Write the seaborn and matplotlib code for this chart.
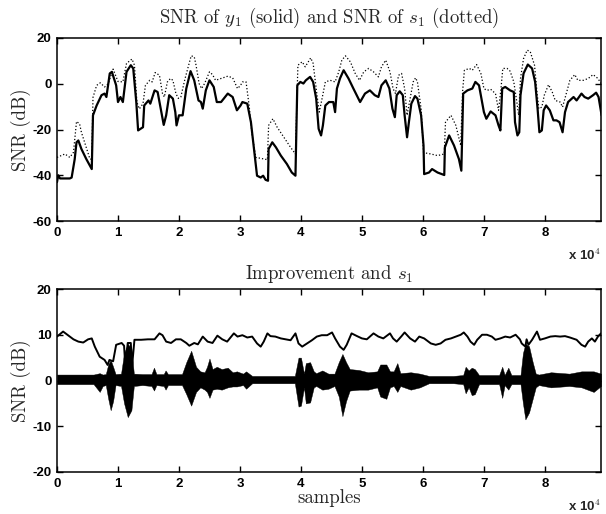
import numpy as np
import pandas as pd
import seaborn as sns
import matplotlib
matplotlib.use("Agg")
import matplotlib.pyplot as plt

# sample axis in units of 10^4 samples
# SNR of y1 (solid line), dB
y1_x = [0.0, 0.02, 0.05, 0.21, 0.24, 0.29, 0.32, 0.35, 0.40, 0.48, 0.57, 0.59, 0.65, 0.73,
        0.78, 0.81, 0.865, 0.90, 0.97, 1.0, 1.04, 1.08, 1.14, 1.21, 1.25, 1.30, 1.33, 1.37,
        1.41, 1.43, 1.50, 1.53, 1.60, 1.65, 1.72, 1.75, 1.79, 1.84, 1.90, 1.94, 1.96, 2.0,
        2.06, 2.12, 2.19, 2.25, 2.32, 2.36, 2.39, 2.44, 2.50, 2.57, 2.62, 2.69, 2.80, 2.88,
        2.95, 3.01, 3.04, 3.12, 3.18, 3.23, 3.28, 3.34, 3.38, 3.42, 3.46, 3.47, 3.53, 3.59,
        3.67, 3.77, 3.85, 3.91, 3.94, 3.99, 4.04, 4.08, 4.15, 4.20, 4.25, 4.29, 4.33, 4.36,
        4.40, 4.46, 4.53, 4.56, 4.59, 4.64, 4.70, 4.78, 4.86, 4.97, 5.05, 5.13, 5.21, 5.27,
        5.32, 5.39, 5.45, 5.50, 5.54, 5.57, 5.62, 5.67, 5.70, 5.74, 5.77, 5.81, 5.87, 5.91,
        5.97, 6.01, 6.02, 6.10, 6.15, 6.24, 6.35, 6.36, 6.43, 6.51, 6.59, 6.63, 6.66, 6.73,
        6.81, 6.86, 6.92, 7.0, 7.04, 7.11, 7.19, 7.24, 7.27, 7.30, 7.35, 7.43, 7.49, 7.51,
        7.55, 7.58, 7.60, 7.65, 7.72, 7.79, 7.84, 7.88, 7.91, 7.95, 7.98, 8.02, 8.08, 8.14,
        8.19, 8.24, 8.29, 8.33, 8.38, 8.47, 8.52, 8.60, 8.65, 8.71, 8.79, 8.84, 8.88, 8.93]
y1_snr = [-43, -40, -41.4, -41.4, -41, -33, -25.6, -24.8, -28.5, -32.9, -37.3, -13.8, -9.5, -5,
          -4.3, -5.8, 4.5, 5.2, -0.7, -8, -5.8, -8, 5.2, 8.1, 6.7, -8, -20.4, -19.7,
          -19, -9.5, -7.3, -8.7, -2.9, -3.6, -13.8, -18, -13.8, -5, -6.5, -12.4, -18.2, -13.8,
          -13.8, -2.1, 5.5, 1.5, -7.3, -8, -10.9, -2.9, 1.5, -1.4, -8, -8, -4.3, -5.8,
          -11.6, -9.5, -8, -8.7, -16.8, -28.5, -40.2, -41, -40.2, -42, -42.4, -28.5, -25.6, -27.8,
          -31.4, -35.1, -38.8, -40.2, -0.7, 0.8, 0.1, 1.5, 3.0, 0.8, -6.5, -19.7, -22.6, -18.2,
          -9.5, -8, -8, -12.4, -2.1, 2.3, 5.9, 2.3, -2.1, -8, -4.3, -2.9, -5, -5.8,
          -0.7, 1.5, -2.1, -10.9, -14.6, -5, -3.3, -5, -13.8, -23.4, -16.8, -8.7, -5.4, -6.5,
          -13.8, -27, -39.5, -38.8, -37.3, -38.8, -39.9, -27.8, -22.6, -27, -32.9, -38, -4.3, -2.9,
          -2.1, 0.8, -0.7, -12.4, -15.3, -12.1, -13.8, -18.2, -20.4, -2.1, -1.4, -2.9, -3.6, -16.8,
          -22.6, -21.2, -5, 4.5, 8.4, 6.7, 0.8, -10.9, -21.2, -20.4, -11.6, -9.5, -11.6, -16,
          -16, -16.8, -21.2, -12.4, -8, -5.8, -7.3, -4.3, -5.8, -6.5, -5, -3.9, -5.8, -13.8]

# SNR of s1 (dotted line), dB
s1_x = [0.0, 0.13, 0.21, 0.27, 0.32, 0.37, 0.40, 0.54, 0.57, 0.59, 0.65, 0.71, 0.78, 0.84,
        0.92, 0.97, 1.0, 1.08, 1.14, 1.23, 1.27, 1.31, 1.35, 1.41, 1.45, 1.52, 1.56, 1.61,
        1.68, 1.73, 1.76, 1.81, 1.86, 1.90, 1.95, 1.99, 2.03, 2.10, 2.20, 2.25, 2.28, 2.33,
        2.37, 2.42, 2.50, 2.55, 2.60, 2.69, 2.80, 2.88, 2.96, 3.01, 3.04, 3.10, 3.15, 3.20,
        3.26, 3.34, 3.45, 3.47, 3.54, 3.61, 3.72, 3.83, 3.91, 3.95, 4.02, 4.07, 4.16, 4.20,
        4.26, 4.30, 4.34, 4.40, 4.48, 4.56, 4.62, 4.67, 4.73, 4.81, 4.89, 4.96, 5.03, 5.11,
        5.19, 5.27, 5.32, 5.39, 5.46, 5.51, 5.55, 5.60, 5.65, 5.70, 5.74, 5.79, 5.84, 5.88,
        5.91, 5.97, 6.01, 6.05, 6.13, 6.24, 6.35, 6.37, 6.46, 6.54, 6.62, 6.65, 6.68, 6.76,
        6.81, 6.88, 6.95, 7.00, 7.05, 7.11, 7.19, 7.24, 7.28, 7.31, 7.38, 7.43, 7.49, 7.54,
        7.57, 7.60, 7.65, 7.71, 7.76, 7.83, 7.87, 7.90, 7.95, 7.99, 8.06, 8.12, 8.17, 8.25,
        8.29, 8.35, 8.41, 8.49, 8.54, 8.63, 8.71, 8.79, 8.87, 8.94]
s1_snr = [-32.2, -30.7, -32.2, -30, -16.5, -17.5, -21.2, -32.9, -33, -6, -0.7, 0.4, -1.4, 0,
          6.4, 3, 1, 0.8, 8.9, 10.8, 8.1, -8, -11, -8.7, -0.7, 1.5, 0.8, 4.9,
          3.7, -4.3, -5.8, 0.8, 2.3, 1.5, -4.3, -6.4, -5.8, 2.3, 12.2, 11.8, 8.1, 0.1,
          -2.1, 0.1, 5.2, 4, 1.5, 2.3, 3.3, 2.6, -2.1, -0.7, 0.8, 0.8, -9.5, -22.6,
          -32.2, -32.6, -33.2, -18.2, -15.3, -19, -23.4, -27.8, -30.7, 8.1, 9.6, 7.4, 11.3, 8.9,
          -4.3, -12.4, -7.3, 0.8, 1.5, 0.8, 5.2, 10.3, 12.2, 9.6, 4.5, 1.5, 5.2, 6.7,
          5.2, 3, 7.4, 10.3, 5.2, -2.1, -4.3, 3.7, 4.5, -2.1, -13.8, -6.5, 0.8, 2.6,
          0.8, -10.9, -30, -30.3, -30.7, -31.4, -30.7, -16.8, -13.8, -18.2, -27, -3.6, 5.9, 6.7,
          5.9, 8.4, 4.5, -2.1, -2.9, -2.4, -4.3, -11.6, -2.1, 6.7, 6.7, 5.5, 0.8, -8,
          -13.8, 2.3, 11, 14.7, 14, 8.1, -3.6, -10.9, -10.2, -5, -0.4, -3.6, -7.3, -8,
          -10.2, -4.3, 1.5, 4, 1.5, 1.5, 2.3, 4, 2.3, -0.7]

# improvement (dB)
imp_x = [0.0, 0.10, 0.27, 0.35, 0.43, 0.51, 0.57, 0.62, 0.70, 0.78, 0.83, 0.86, 0.92, 0.97,
         1.06, 1.10, 1.12, 1.16, 1.21, 1.23, 1.27, 1.38, 1.49, 1.60, 1.68, 1.73, 1.79, 1.87,
         1.95, 2.03, 2.12, 2.17, 2.25, 2.31, 2.39, 2.47, 2.55, 2.63, 2.71, 2.79, 2.90, 2.96,
         3.04, 3.12, 3.20, 3.28, 3.34, 3.39, 3.45, 3.50, 3.58, 3.67, 3.75, 3.83, 3.91, 3.96,
         4.02, 4.10, 4.18, 4.26, 4.34, 4.43, 4.51, 4.56, 4.64, 4.70, 4.75, 4.83, 4.92, 5.00,
         5.08, 5.19, 5.27, 5.35, 5.46, 5.51, 5.57, 5.65, 5.70, 5.79, 5.87, 5.94, 6.02, 6.13,
         6.21, 6.29, 6.37, 6.46, 6.54, 6.62, 6.67, 6.73, 6.78, 6.84, 6.89, 6.97, 7.05, 7.13,
         7.19, 7.27, 7.35, 7.43, 7.52, 7.59, 7.62, 7.68, 7.70, 7.73, 7.79, 7.87, 7.92, 8.00,
         8.09, 8.17, 8.25, 8.33, 8.41, 8.52, 8.60, 8.66, 8.71, 8.77, 8.82, 8.87, 8.92]
imp_db = [9.6, 10.7, 9.0, 8.5, 8.3, 9.0, 9.2, 7.4, 5.2, 4.5, 3.4, 4.5, 4.2, 7.8,
          8.2, 7.6, 3.0, 8.2, 8.2, 3.0, 8.9, 8.9, 9.0, 9.0, 10.3, 9.9, 8.5, 8.2,
          9.0, 9.0, 8.2, 7.6, 8.2, 7.9, 9.6, 8.5, 8.2, 9.8, 9.0, 8.5, 10.3, 9.6,
          9.9, 9.4, 9.6, 8.1, 7.4, 8.5, 10.3, 9.7, 9.6, 9.2, 9.0, 8.8, 10.3, 8.1,
          7.4, 8.1, 8.8, 9.6, 9.9, 9.9, 10.5, 9.2, 7.4, 6.7, 7.8, 10.3, 9.7, 9.2,
          9.0, 10.3, 9.6, 9.2, 10.3, 9.2, 8.5, 9.7, 10.5, 9.2, 8.5, 9.6, 9.2, 8.1,
          7.8, 8.1, 8.9, 9.2, 9.6, 10.0, 10.5, 9.6, 8.5, 7.8, 8.9, 10.0, 10.0, 9.6,
          8.9, 9.2, 9.6, 9.4, 10.0, 9.0, 8.1, 7.4, 9.0, 7.8, 8.9, 10.7, 8.9, 9.2,
          9.6, 9.7, 9.6, 9.7, 9.4, 8.9, 7.8, 7.4, 8.5, 9.2, 8.5, 9.6, 10.3]

# s1 waveform envelope (upper / lower)
wave_x = [0.0, 0.6, 0.7, 0.75, 0.8, 0.84, 0.88, 0.92, 0.96, 1.05, 1.10, 1.16, 1.22, 1.26,
          1.4, 1.55, 1.59, 1.63, 1.75, 1.78, 1.82, 2.05, 2.12, 2.2, 2.28, 2.35, 2.42, 2.46,
          2.5, 2.55, 2.62, 2.7, 2.8, 2.88, 2.95, 3.05, 3.1, 3.2, 3.5, 3.9, 3.96, 4.0,
          4.05, 4.08, 4.15, 4.21, 4.25, 4.35, 4.45, 4.55, 4.62, 4.68, 4.74, 4.8, 4.95, 5.1,
          5.25, 5.3, 5.4, 5.46, 5.52, 5.58, 5.63, 5.8, 5.95, 6.1, 6.5, 6.66, 6.7, 6.75,
          6.8, 6.85, 6.92, 7.25, 7.3, 7.34, 7.4, 7.45, 7.6, 7.64, 7.68, 7.74, 7.8, 7.85,
          7.9, 8.1, 8.4, 8.6, 8.8, 8.92]
wave_hi = [1.3, 1.3, 1.6, 1.3, 1.4, 3.5, 4.5, 3.0, 1.4, 1.5, 6.0, 8.0, 7.0, 1.5,
           1.4, 1.4, 2.8, 1.4, 1.4, 2.2, 1.4, 1.4, 4.0, 6.5, 3.0, 2.0, 1.8, 3.0,
           4.8, 2.5, 3.0, 2.5, 2.8, 1.8, 2.0, 1.5, 2.0, 1.0, 1.0, 1.0, 5.0, 5.0,
           1.5, 3.8, 4.0, 2.0, 1.6, 2.2, 1.5, 1.5, 4.0, 5.8, 4.0, 2.5, 2.3, 1.8,
           2.0, 3.5, 3.5, 2.0, 2.0, 3.8, 1.6, 1.8, 1.5, 1.0, 1.0, 1.2, 3.0, 2.2,
           2.8, 2.5, 1.2, 1.2, 3.0, 1.2, 2.8, 1.2, 1.2, 6.0, 8.0, 7.5, 4.0, 1.5,
           1.3, 1.8, 1.5, 2.0, 2.0, 1.5]
wave_lo = [-0.8, -0.8, -2.5, -1.2, -1.0, -4.0, -6.5, -4.5, -1.0, -1.2, -5.0, -8.0, -6.5, -1.2,
           -1.0, -1.2, -2.2, -1.0, -1.2, -2.0, -1.0, -1.0, -3.0, -5.5, -2.5, -1.5, -2.0, -2.5,
           -3.8, -2.0, -1.8, -2.0, -1.5, -1.3, -1.3, -1.0, -1.8, -0.6, -0.6, -0.6, -5.7, -5.5,
           -1.5, -5.0, -4.8, -1.5, -1.2, -2.0, -1.8, -1.2, -3.5, -7.8, -4.5, -2.2, -2.0, -2.0,
           -1.5, -3.5, -4.0, -1.5, -1.2, -2.5, -1.2, -2.0, -1.5, -0.6, -0.6, -0.8, -2.8, -1.5,
           -3.2, -3.0, -0.8, -0.8, -3.8, -1.0, -2.0, -0.8, -0.8, -5.0, -8.5, -7.0, -4.0, -1.5,
           -1.0, -1.5, -1.2, -1.5, -2.5, -1.2]

x_ticks = [0, 1, 2, 3, 4, 5, 6, 7, 8]
top_yticks = [-60, -40, -20, 0, 20]
bot_yticks = [-20, -10, 0, 10, 20]

sns.set_theme(style="ticks")
plt.rcParams["mathtext.fontset"] = "cm"
plt.rcParams["axes.unicode_minus"] = False

tick_font = {"family": "Liberation Sans", "weight": "bold", "size": 9.5}
serif = {"family": "cmr10", "size": 13.5}

fig = plt.figure(figsize=(6.06, 5.14), dpi=100)
ax1 = fig.add_axes([57 / 606, 1 - 221 / 514, 544 / 606, 183 / 514])
ax2 = fig.add_axes([57 / 606, 1 - 472 / 514, 544 / 606, 183 / 514])

df_y1 = pd.DataFrame({"x": y1_x, "snr": y1_snr})
df_s1 = pd.DataFrame({"x": s1_x, "snr": s1_snr})
df_imp = pd.DataFrame({"x": imp_x, "db": imp_db})

# top: SNR of y1 (solid) and s1 (dotted)
sns.lineplot(data=df_s1, x="x", y="snr", ax=ax1, color="black", lw=0.9,
             linestyle=":", sort=False, estimator=None)
sns.lineplot(data=df_y1, x="x", y="snr", ax=ax1, color="black", lw=1.6,
             sort=False, estimator=None)

# bottom: s1 waveform + improvement curve
ax2.fill_between(wave_x, wave_lo, wave_hi, color="black", lw=0.3, edgecolor="black")
sns.lineplot(data=df_imp, x="x", y="db", ax=ax2, color="black", lw=1.4,
             sort=False, estimator=None)

for ax, yt, ylim in [(ax1, top_yticks, (-60, 20)), (ax2, bot_yticks, (-20, 20))]:
    ax.set_xlim(0, 8.92)
    ax.set_ylim(*ylim)
    ax.set_xticks(x_ticks)
    ax.set_yticks(yt)
    ax.set_xticklabels([str(t) for t in x_ticks], fontdict=tick_font)
    ax.set_yticklabels([str(t) for t in yt], fontdict=tick_font)
    ax.tick_params(direction="in", length=4, width=1, top=True, right=True,
                   color="black", labelcolor="black", pad=4)
    for sp in ax.spines.values():
        sp.set_visible(True)
        sp.set_color("black")
        sp.set_linewidth(1.1)
    ax.set_ylabel("SNR (dB)", fontdict=serif, labelpad=1)
    ax.set_xlabel("")
    ax.text(1.0, -0.185, r"x 10$^{\mathbf{4}}$", transform=ax.transAxes, ha="right",
            va="center", fontdict=tick_font)

ax1.set_title(r"SNR of $y_1$ (solid) and SNR of $s_1$ (dotted)", fontdict=serif, pad=11)
ax2.set_title(r"Improvement and $s_1$", fontdict=serif, pad=7)
ax2.set_xlabel("samples", fontdict=serif, labelpad=0)

fig.savefig("out.png", dpi=100)
